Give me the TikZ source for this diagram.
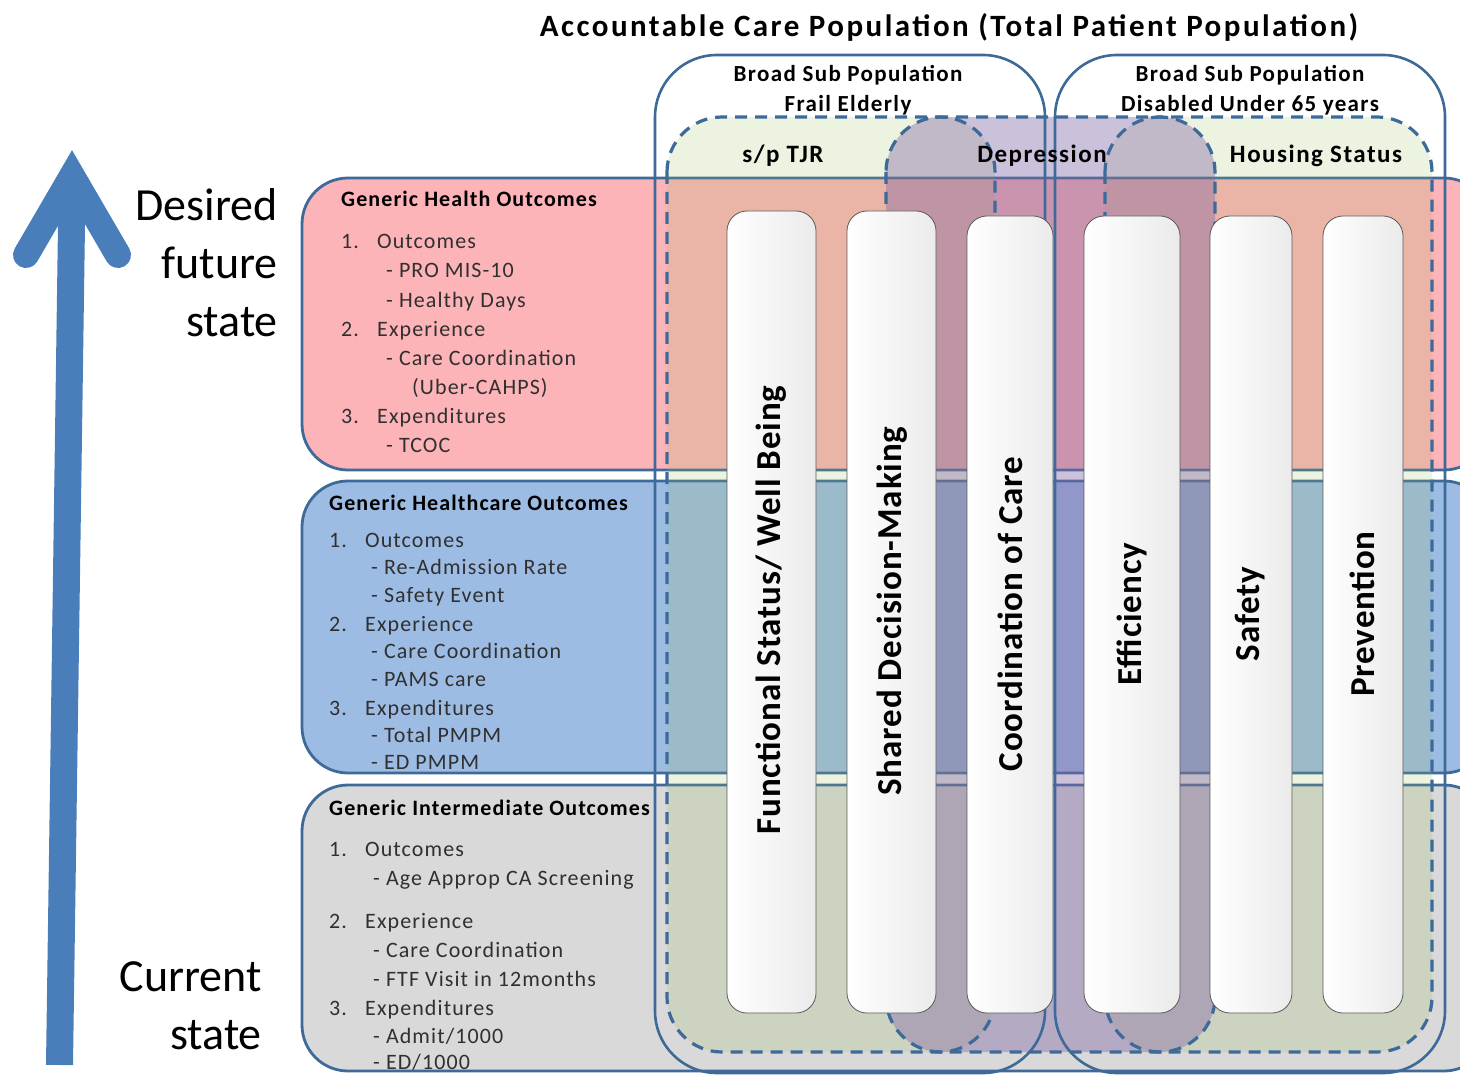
\documentclass[tikz,border=0pt]{standalone}
\usepackage{fontspec}
\setmainfont{Carlito}
\definecolor{bordc}{HTML}{3E6A9A}
\definecolor{arrowc}{HTML}{4A7EBB}
\definecolor{pinkc}{HTML}{FCB4B9}
\definecolor{bluec}{HTML}{9DBCE4}
\definecolor{grayc}{HTML}{D9D9D9}
\definecolor{oliveg}{HTML}{9BBB59}
\definecolor{purpc}{HTML}{8064A2}
\definecolor{txtc}{HTML}{303030}
\definecolor{barbord}{HTML}{5A5A5A}
\begin{document}
\begin{tikzpicture}[x=1pt,y=-1pt,
  band/.style={draw=bordc, line width=2.8pt, rounded corners=46pt},
  subpop/.style={draw=bordc, line width=2.6pt, rounded corners=62pt},
  greenreg/.style={fill=oliveg, fill opacity=0.18, rounded corners=55pt},
  purpreg/.style={fill=purpc, fill opacity=0.4, rounded corners=55pt},
  dashreg/.style={draw=bordc, line width=3.2pt, dash pattern=on 12pt off 8pt, rounded corners=55pt},
  barbox/.style={draw=barbord, line width=0.8pt, rounded corners=20pt, left color=white, right color=black!8},
  bartext/.style={font=\fontsize{35}{35}\selectfont\bfseries\addfontfeature{LetterSpace=2.5}, rotate=90, text=black, inner sep=0pt},
  hdr/.style={anchor=mid west, yshift=-5pt, font=\fontsize{22}{24}\selectfont\bfseries\addfontfeature{LetterSpace=5}, inner sep=0pt, text=black},
  itm/.style={anchor=mid west, yshift=-5pt, font=\fontsize{22}{24}\selectfont\addfontfeature{LetterSpace=5}, inner sep=0pt, text=txtc},
  poptext/.style={font=\fontsize{23}{30}\selectfont\bfseries\addfontfeature{LetterSpace=6}, align=center, inner sep=0pt},
  regtext/.style={font=\fontsize{25}{25}\selectfont\bfseries\addfontfeature{LetterSpace=6}, inner sep=0pt},
  bigtext/.style={font=\fontsize{46}{58}\selectfont, align=right, anchor=north east, inner sep=0pt}
]
\useasboundingbox (0,0) rectangle (1460,1075);
\clip (0,0) rectangle (1460,1075);

% title
\node[font=\fontsize{31}{31}\selectfont\bfseries\addfontfeature{LetterSpace=8}, inner sep=0pt] (title) at (949,27) {Accountable Care Population (Total Patient Population)};

% arrow
\draw[arrowc, line width=27pt] (59.5,1065) -- (72,190);
\draw[arrowc, line width=26pt, line cap=round, line join=miter] (26,255) -- (72,176) -- (118,255);

% left state texts
\node[bigtext] (desired) at (278,188) {Desired\\future\\state};
\node[bigtext] (current) at (262,961) {Current\\state};

% bands
\path[band, fill=pinkc] (302,178) rectangle (1490,470);
\path[band, fill=bluec] (302,481) rectangle (1490,773);
\path[band, fill=grayc] (302,785) rectangle (1490,1071);

% regions
\path[greenreg] (667,117) rectangle (995,1052);
\path[greenreg] (1105,117) rectangle (1432,1052);
\path[purpreg] (886,117) rectangle (1215,1052);
\draw[dashreg] (667,117) rectangle (995,1052);
\draw[dashreg] (1105,117) rectangle (1432,1052);
\draw[dashreg] (886,117) rectangle (1215,1052);

% sub populations
\draw[subpop] (655,55) rectangle (1045,1073);
\draw[subpop] (1055,55) rectangle (1445,1073);
\node[poptext] (frail) at (848,90) {Broad Sub Population\\Frail Elderly};
\node[poptext] (disab) at (1250,90) {Broad Sub Population\\Disabled Under 65 years};

\node[regtext] (tjr) at (783,156) {s/p TJR};
\node[regtext] (depr) at (1042,156) {Depression};
\node[regtext] (hous) at (1316,156) {Housing Status};

% bars
\path[barbox] (727,211) rectangle (816,1013);
\path[barbox] (847,211) rectangle (936,1013);
\path[barbox] (967,216) rectangle (1053,1013);
\path[barbox] (1084,216) rectangle (1180,1013);
\path[barbox] (1210,216) rectangle (1292,1013);
\path[barbox] (1323,216) rectangle (1403,1013);
\node[bartext] (b1) at (771,610) {Functional Status/ Well Being};
\node[bartext] (b2) at (892,611) {Shared Decision-Making};
\node[bartext] (b3) at (1010,614) {Coordination of Care};
\node[bartext] (b4) at (1132,614) {Efficiency};
\node[bartext] (b5) at (1250,614) {Safety};
\node[bartext] (b6) at (1362,614) {Prevention};

% box 1
\node[hdr] (h1) at (341,199) {Generic Health Outcomes};
\node[itm] (a1n) at (341,241) {1.};
\node[itm] (a1) at (377,241) {Outcomes};
\node[itm] (a1a) at (386,270) {- PRO MIS-10};
\node[itm] (a1b) at (386,300) {- Healthy Days};
\node[itm] (a2n) at (341,329) {2.};
\node[itm] (a2) at (377,329) {Experience};
\node[itm] (a2a) at (386,358) {- Care Coordination};
\node[itm] (a2b) at (412,387) {(Uber-CAHPS)};
\node[itm] (a3n) at (341,416) {3.};
\node[itm] (a3) at (377,416) {Expenditures};
\node[itm] (a3a) at (386,445) {- TCOC};

% box 2
\node[hdr] (h2) at (329,503) {Generic Healthcare Outcomes};
\node[itm] (c1n) at (329,540) {1.};
\node[itm] (c1) at (365,540) {Outcomes};
\node[itm] (c1a) at (371,567) {- Re-Admission Rate};
\node[itm] (c1b) at (371,595) {- Safety Event};
\node[itm] (c2n) at (329,624) {2.};
\node[itm] (c2) at (365,624) {Experience};
\node[itm] (c2a) at (371,651) {- Care Coordination};
\node[itm] (c2b) at (371,679) {- PAMS care};
\node[itm] (c3n) at (329,708) {3.};
\node[itm] (c3) at (365,708) {Expenditures};
\node[itm] (c3a) at (371,735) {- Total PMPM};
\node[itm] (c3b) at (371,762) {- ED PMPM};

% box 3
\node[hdr] (h3) at (329,808) {Generic Intermediate Outcomes};
\node[itm] (e1n) at (329,849) {1.};
\node[itm] (e1) at (365,849) {Outcomes};
\node[itm] (e1a) at (373,878) {- Age Approp CA Screening};
\node[itm] (e2n) at (329,921) {2.};
\node[itm] (e2) at (365,921) {Experience};
\node[itm] (e2a) at (373,950) {- Care Coordination};
\node[itm] (e2b) at (373,979) {- FTF Visit in 12months};
\node[itm] (e3n) at (329,1008) {3.};
\node[itm] (e3) at (365,1008) {Expenditures};
\node[itm] (e3a) at (373,1036) {- Admit/1000};
\node[itm] (e3b) at (373,1062) {- ED/1000};
\end{tikzpicture}
\end{document}
